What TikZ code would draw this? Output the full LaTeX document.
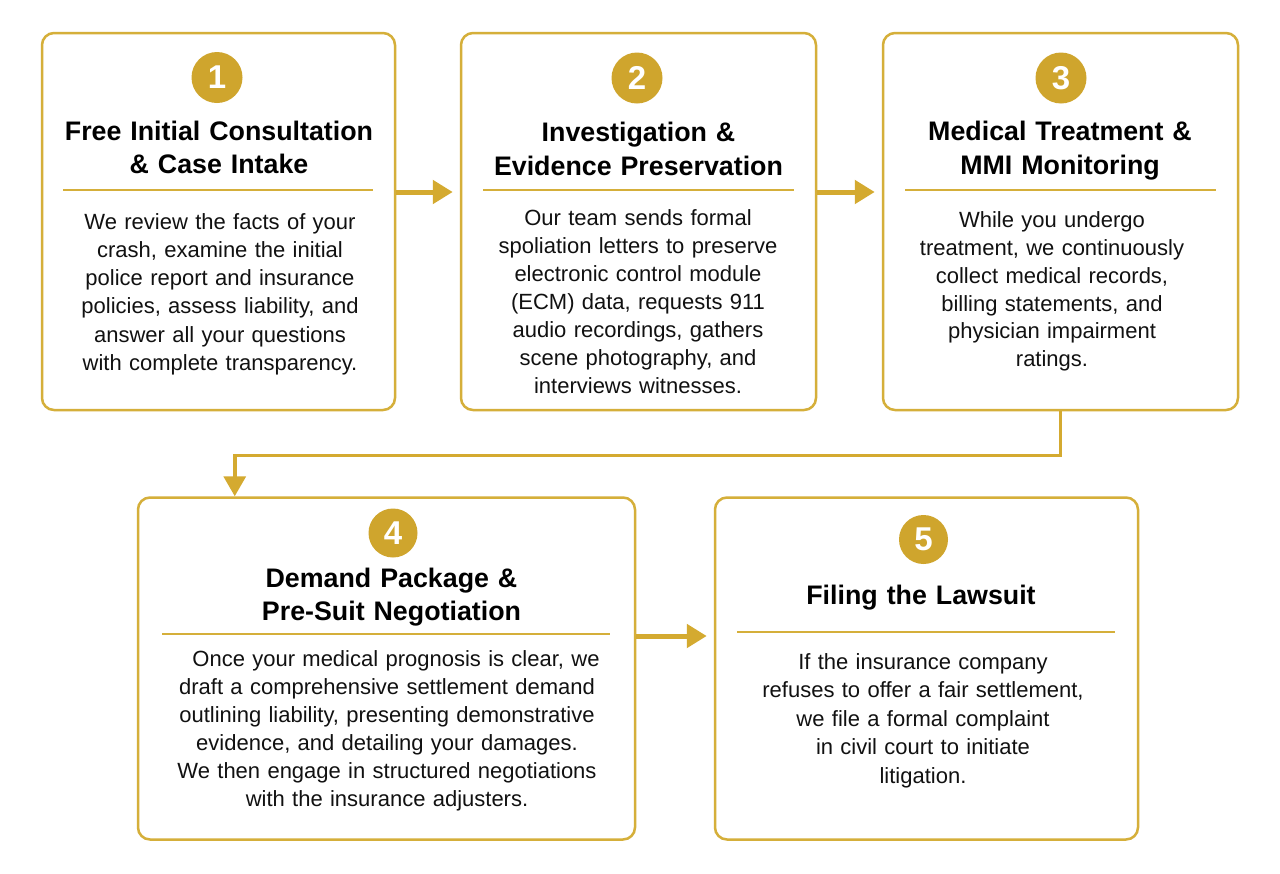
\documentclass[tikz,border=0pt]{standalone}
\usepackage{fontspec}
\setmainfont{Liberation Sans}
\usetikzlibrary{arrows.meta,calc}
\definecolor{gold}{RGB}{213,175,58}
\definecolor{goldfill}{RGB}{207,165,45}
\definecolor{goldarrow}{RGB}{212,170,48}
\definecolor{ink}{RGB}{17,17,17}
\begin{document}
\begin{tikzpicture}[x=1pt,y=-1pt,
  stepbox/.style={draw=gold,line width=2.5pt,rounded corners=12pt,fill=white,inner sep=0pt},
  numc/.style={circle,fill=goldfill,text=white,minimum size=51pt,inner sep=0pt,font=\fontsize{33}{33}\selectfont\bfseries},
  ttl/.style={anchor=base,align=center,text width=480pt,inner sep=0pt,text=black,font=\fontsize{26.8}{33.5}\selectfont\bfseries},
  bodytxt/.style={anchor=base,align=center,text width=480pt,inner sep=0pt,text=ink,font=\fontsize{22}{28.2}\selectfont},
  sep/.style={draw=gold,line width=2.5pt},
  arr/.style={draw=goldarrow,line width=5pt,-{Triangle[length=20pt,width=23pt]}},
  elbow/.style={draw=goldarrow,line width=3.5pt,-{Triangle[length=20pt,width=22pt]}}
]
\useasboundingbox[fill=white] (0,0) rectangle (1280,873);

% boxes
\node[stepbox,minimum width=353pt,minimum height=377pt] (b1) at (218.5,221.5) {};
\node[stepbox,minimum width=355pt,minimum height=377pt] (b2) at (638.5,221.5) {};
\node[stepbox,minimum width=355pt,minimum height=377pt] (b3) at (1060.5,221.5) {};
\node[stepbox,minimum width=497pt,minimum height=342pt] (b4) at (386.5,668.5) {};
\node[stepbox,minimum width=423pt,minimum height=342pt] (b5) at (926.5,668.5) {};

% number circles
\node[numc] (n1) at (217,77.5) {1};
\node[numc] (n2) at (637,78) {2};
\node[numc] (n3) at (1061,78) {3};
\node[numc,minimum size=49pt] (n4) at (393,533) {4};
\node[numc,minimum size=49pt] (n5) at (923.5,539.5) {5};

% titles
\node[ttl] (t1) at (219,140) {Free Initial Consultation\\ \& Case Intake};
\node[ttl] (t2) at (638.5,141.5) {Investigation \&\\ Evidence Preservation};
\node[ttl] (t3) at (1060,140.5) {Medical Treatment \&\\ MMI Monitoring};
\node[ttl] (t4) at (391.5,587) {Demand Package \&\\ Pre-Suit Negotiation};
\node[ttl] (t5) at (921,604) {Filing the Lawsuit};

% separators
\draw[sep] (63,190) -- (373,190);
\draw[sep] (483,190) -- (794,190);
\draw[sep] (905,190) -- (1216,190);
\draw[sep] (162,634) -- (610,634);
\draw[sep] (737,632) -- (1115,632);

% body texts
\node[bodytxt,font=\fontsize{22}{28.3}\selectfont] (d1) at (220,229) {We review the facts of your\\ crash, examine the initial\\ police report and insurance\\ policies, assess liability, and\\ answer all your questions\\ with complete transparency.};
\node[bodytxt,font=\fontsize{22}{28}\selectfont] (d2) at (638,225) {Our team sends formal\\ spoliation letters to preserve\\ electronic control module\\ (ECM) data, requests 911\\ audio recordings, gathers\\ scene photography, and\\ interviews witnesses.};
\node[bodytxt,font=\fontsize{22}{27.9}\selectfont] (d3) at (1052,227.3) {While you undergo\\ treatment, we continuously\\ collect medical records,\\ billing statements, and\\ physician impairment\\ ratings.};
\node[bodytxt,font=\fontsize{22}{28}\selectfont] (d4) at (387,666) {\hspace*{18pt}Once your medical prognosis is clear, we\\ draft a comprehensive settlement demand\\ outlining liability, presenting demonstrative\\ evidence, and detailing your damages.\\ We then engage in structured negotiations\\ with the insurance adjusters.};
\node[bodytxt,font=\fontsize{22}{28.5}\selectfont] (d5) at (923,669) {If the insurance company\\ refuses to offer a fair settlement,\\ we file a formal complaint\\ in civil court to initiate\\ litigation.};

% connectors
\draw[arr] ($(b1.east)+(0,-29.5)$) -- ($(b2.west)+(-7,-29.5)$);
\draw[arr] ($(b2.east)+(0,-29.5)$) -- ($(b3.west)+(-7,-29.5)$);
\draw[arr] ($(b4.east)+(0,-32.5)$) -- ($(b5.west)+(-7,-32.5)$);
\coordinate (e4) at ($(b4.north west)+(98,0)$);
\draw[elbow] (b3.south) -- ++(0,44) -| (e4);
\end{tikzpicture}
\end{document}
